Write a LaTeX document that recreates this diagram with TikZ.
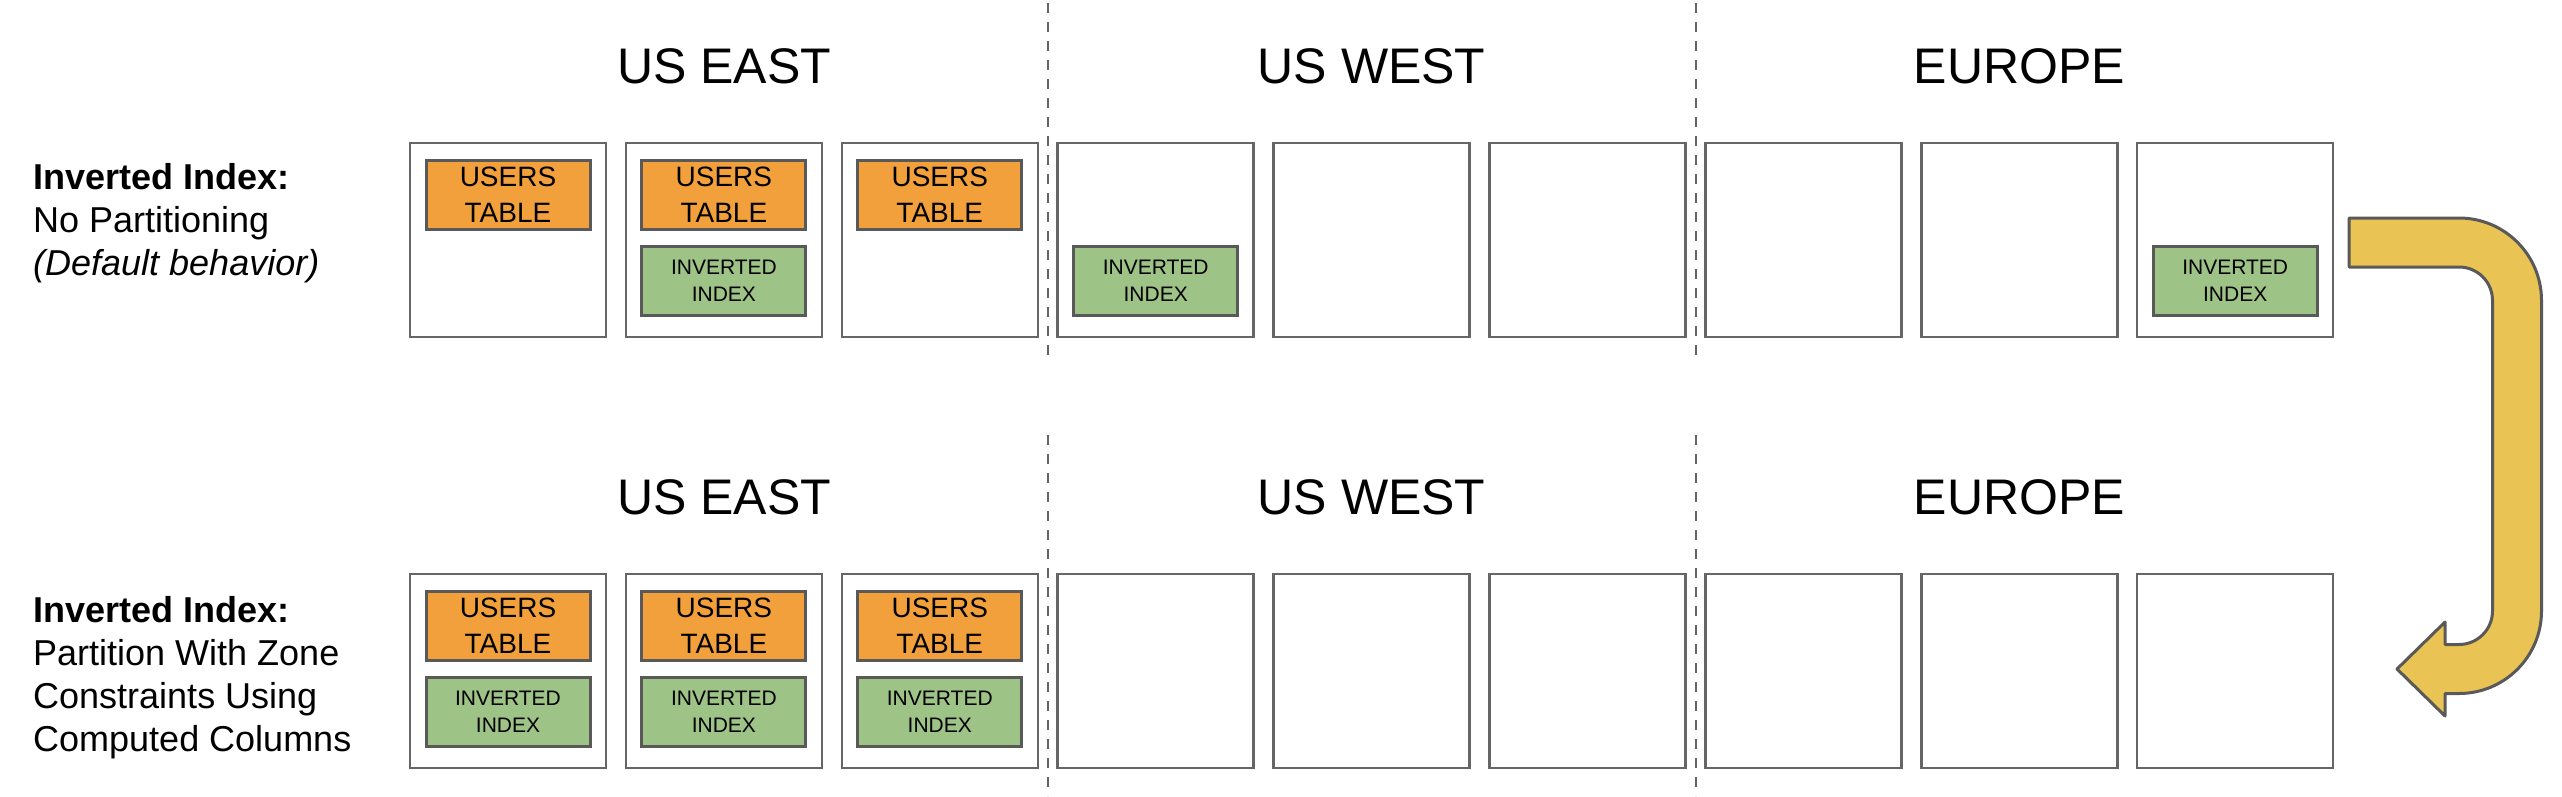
\documentclass[tikz,border=0pt]{standalone}
\usepackage{fontspec}
\setmainfont{Liberation Sans}
\definecolor{edge}{HTML}{666666}
\definecolor{edgeD}{HTML}{595959}
\definecolor{orangeT}{HTML}{F1A03B}
\definecolor{greenI}{HTML}{9EC386}
\definecolor{yellowA}{HTML}{E9C353}
\tikzset{
  region/.style={font=\fontsize{50}{60}\selectfont, anchor=base},
  rowlabel/.style={font=\fontsize{36}{43}\selectfont, align=left, inner sep=0pt, anchor=north west},
  server/.style={draw=edge, line width=2.5pt, fill=white, minimum width=196pt, minimum height=194pt, inner sep=0pt},
  tablebox/.style={draw=edgeD, line width=3pt, fill=orangeT, minimum width=164pt, minimum height=69pt, inner sep=0pt, align=center, font=\fontsize{28}{36}\selectfont},
  indexbox/.style={tablebox, fill=greenI, font=\fontsize{21}{27}\selectfont},
  zoneline/.style={draw=edge, line width=2.5pt, dash pattern=on 10pt off 9pt},
  bendarrow/.style={draw=edgeD, line width=3pt, fill=yellowA, line join=round}
}

\begin{document}
\begin{tikzpicture}[x=1pt,y=-1pt]
\useasboundingbox (0,0) rectangle (2562,796);

% zone separators
\draw[zoneline] (1048,3) -- (1048,363);
\draw[zoneline] (1696,3) -- (1696,363);
\draw[zoneline] (1048,435) -- (1048,796);
\draw[zoneline] (1696,435) -- (1696,796);

% region titles
\node[region] (eastA) at (724,83) {US EAST};
\node[region] (westA) at (1371.6,83) {US WEST};
\node[region] (euA) at (2019.3,83) {EUROPE};
\node[region] (eastB) at (724,514) {US EAST};
\node[region] (westB) at (1371.6,514) {US WEST};
\node[region] (euB) at (2019.3,514) {EUROPE};

% row labels
\node[rowlabel] (labA) at (33,163)
{\textbf{Inverted Index:}\\No Partitioning\\\textit{(Default behavior)}};
\node[rowlabel] (labB) at (33,596)
{\textbf{Inverted Index:}\\Partition With Zone\\Constraints Using\\Computed Columns};

% top row: no partitioning
\node[server] (t1) at (508,240) {};
\node[server] (t2) at (723.9,240) {};
\node[server] (t3) at (939.8,240) {};
\node[server] (t4) at (1155.7,240) {};
\node[server] (t5) at (1371.6,240) {};
\node[server] (t6) at (1587.5,240) {};
\node[server] (t7) at (1803.4,240) {};
\node[server] (t8) at (2019.3,240) {};
\node[server] (t9) at (2235.2,240) {};

\node[tablebox] (tu1) at (508,195) {USERS\\TABLE};
\node[tablebox] (tu2) at (723.9,195) {USERS\\TABLE};
\node[tablebox] (tu3) at (939.8,195) {USERS\\TABLE};
\node[indexbox] (ti2) at (723.9,281) {INVERTED\\INDEX};
\node[indexbox] (ti4) at (1155.7,281) {INVERTED\\INDEX};
\node[indexbox] (ti9) at (2235.2,281) {INVERTED\\INDEX};

% bottom row: zone constraints
\node[server] (b1) at (508,671) {};
\node[server] (b2) at (723.9,671) {};
\node[server] (b3) at (939.8,671) {};
\node[server] (b4) at (1155.7,671) {};
\node[server] (b5) at (1371.6,671) {};
\node[server] (b6) at (1587.5,671) {};
\node[server] (b7) at (1803.4,671) {};
\node[server] (b8) at (2019.3,671) {};
\node[server] (b9) at (2235.2,671) {};

\node[tablebox] (bu1) at (508,626) {USERS\\TABLE};
\node[tablebox] (bu2) at (723.9,626) {USERS\\TABLE};
\node[tablebox] (bu3) at (939.8,626) {USERS\\TABLE};
\node[indexbox] (bi1) at (508,712) {INVERTED\\INDEX};
\node[indexbox] (bi2) at (723.9,712) {INVERTED\\INDEX};
\node[indexbox] (bi3) at (939.8,712) {INVERTED\\INDEX};

% bent arrow
\draw[bendarrow] (2349,218) -- (2459,218)
  arc[start angle=-90, end angle=0, radius=82.5] -- (2541.5,611)
  arc[start angle=0, end angle=90, radius=82.5] -- (2445,693.5)
  -- (2445,716) -- (2397,669) -- (2445,622) -- (2445,644.5) -- (2459,644.5)
  arc[start angle=90, end angle=0, radius=33.5] -- (2492.5,300.5)
  arc[start angle=0, end angle=-90, radius=33.5] -- (2349,267) -- cycle;

\end{tikzpicture}
\end{document}
